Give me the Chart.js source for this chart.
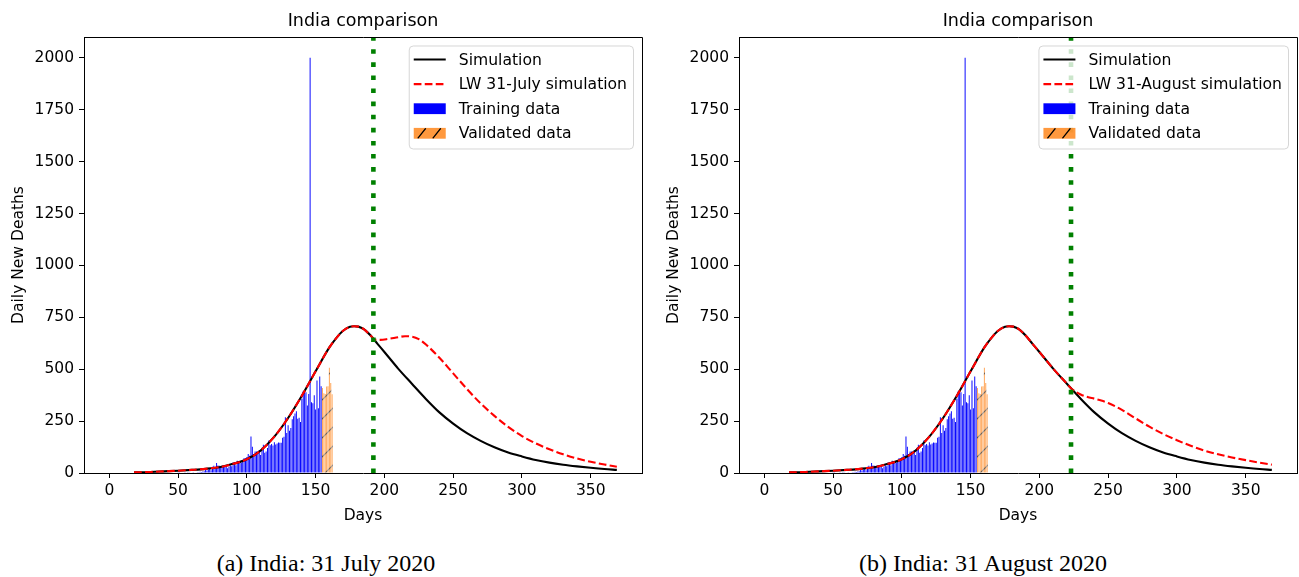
<!DOCTYPE html>
<html>
<head>
<meta charset="utf-8">
<script src="https://cdn.jsdelivr.net/npm/chart.js@4.4.0/dist/chart.umd.min.js"></script>
<style>
  html, body { margin: 0; padding: 0; background: #fff; width: 1299px; height: 577px; overflow: hidden; }
  body { position: relative; }
  canvas { position: absolute; top: 0; }
  .cap { position: absolute; top: 548px; width: 600px; text-align: center; line-height: 30px;
         font-family: "Liberation Serif", "Times New Roman", serif; font-size: 24px; color: #000; }
</style>
</head>
<body>
<canvas id="chartA" width="650" height="530" style="left:0px"></canvas>
<canvas id="chartB" width="650" height="530" style="left:655px"></canvas>
<div class="cap" style="left:26px">(a) India: 31 July 2020</div>
<div class="cap" style="left:683px">(b) India: 31 August 2020</div>
<script>
// daily deaths used for training (blue bars)
const trainingDays = [
  50, 51, 52, 53, 54, 55, 56, 57, 58, 59,
  60, 61, 62, 63, 64, 65, 66, 67, 68, 69,
  70, 71, 72, 73, 74, 75, 76, 77, 78, 79,
  80, 81, 82, 83, 84, 85, 86, 87, 88, 89,
  90, 91, 92, 93, 94, 95, 96, 97, 98, 99,
  100, 101, 102, 103, 104, 105, 106, 107, 108, 109,
  110, 111, 112, 113, 114, 115, 116, 117, 118, 119,
  120, 121, 122, 123, 124, 125, 126, 127, 128, 129,
  130, 131, 132, 133, 134, 135, 136, 137, 138, 139,
  140, 141, 142, 143, 144, 145, 146, 147, 148, 149,
  150, 151, 152, 153, 154
];
const trainingDeaths = [
  1, 1, 0, 0, 0, 1, 0, 1, 1, 0,
  2, 1, 2, 3, 4, 4, 6, 5, 7, 9,
  14, 12, 16, 20, 13, 30, 35, 20, 48, 36,
  35, 34, 35, 29, 38, 36, 23, 31, 36, 33,
  50, 50, 37, 59, 57, 56, 48, 62, 72, 71,
  77, 92, 83, 176, 126, 92, 103, 104, 97, 111,
  87, 122, 136, 98, 104, 120, 157, 134, 140, 132,
  148, 137, 142, 147, 146, 146, 170, 175, 269, 193,
  230, 204, 217, 259, 273, 286, 298, 261, 266, 246,
  357, 395, 386, 389, 325, 380, 2000, 341, 336, 375,
  306, 445, 312, 465, 418
];
// validated data (orange hatched bars)
const validatedDays = [155, 156, 157, 158, 159, 160, 161, 162];
const validatedDeaths = [410, 384, 380, 417, 418, 507, 434, 379];

// model curves
const simDays = [18, 30, 40, 50, 60, 70, 80, 90, 100, 110, 120, 130, 140, 150, 160, 165, 170, 175, 178,
  181, 185, 190, 195, 200, 210, 220, 230, 240, 250, 260, 270, 280, 290, 300, 310, 320, 330, 340, 350, 360, 369];
const simulation = [3, 5, 8, 11, 15, 20, 28, 44, 66, 108, 175, 265, 372, 490, 605, 650, 685, 704, 707,
  705, 693, 662, 622, 583, 503, 430, 358, 292, 238, 192, 155, 124, 99, 80, 63, 50, 40, 32, 25, 19, 15];

const julyDays = [18, 30, 40, 50, 60, 70, 80, 90, 100, 110, 120, 130, 140, 150, 160, 165, 170, 175, 178,
  181, 185, 190, 193, 197, 203, 210, 215, 220, 225, 230, 240, 250, 260, 270, 280, 290, 300, 310, 320,
  330, 340, 350, 360, 369];
const julySim = [3, 5, 8, 11, 15, 20, 28, 44, 66, 108, 175, 265, 372, 490, 605, 650, 685, 704, 707,
  705, 693, 662, 643, 641, 646, 654, 659, 657, 645, 620, 555, 480, 405, 335, 275, 222, 178, 143, 114,
  90, 70, 54, 41, 30];

const augDays = [18, 30, 40, 50, 60, 70, 80, 90, 100, 110, 120, 130, 140, 150, 160, 165, 170, 175, 178,
  181, 185, 190, 195, 200, 210, 220, 223, 230, 235, 240, 245, 250, 255, 260, 270, 280, 290, 300, 310,
  320, 330, 340, 350, 360, 369];
const augSim = [3, 5, 8, 11, 15, 20, 28, 44, 66, 108, 175, 265, 372, 490, 605, 650, 685, 704, 707,
  705, 693, 662, 622, 583, 503, 430, 408, 378, 366, 358, 349, 337, 322, 304, 263, 223, 188, 158, 131,
  108, 90, 75, 62, 50, 40];

const xTicks = [0, 50, 100, 150, 200, 250, 300, 350];
const yTicks = [0, 250, 500, 750, 1000, 1250, 1500, 1750, 2000];
const xRange = [-18.4, 387.3];
const yRange = [0, 2100];

Chart.defaults.font.family = '"DejaVu Sans", sans-serif';
Chart.defaults.color = '#000';

function pts(xs, ys) {
  return xs.map((x, i) => ({ x: x, y: ys[i] }));
}

function hatchPattern(bg, line) {
  const c = document.createElement('canvas');
  c.width = 19; c.height = 19;
  const g = c.getContext('2d');
  g.fillStyle = bg;
  g.fillRect(0, 0, 19, 19);
  g.strokeStyle = line;
  g.lineWidth = 1.2;
  g.beginPath();
  g.moveTo(-2, 21); g.lineTo(21, -2);
  g.moveTo(-2, 2); g.lineTo(2, -2);
  g.moveTo(17, 21); g.lineTo(21, 17);
  g.stroke();
  return g.createPattern(c, 'repeat');
}

// top/right spines + title centred on the axes
const frameTitle = {
  id: 'frameTitle',
  afterDraw(chart) {
    const { ctx, chartArea: a } = chart;
    ctx.save();
    ctx.strokeStyle = '#000';
    ctx.lineWidth = 1;
    ctx.beginPath();
    ctx.moveTo(a.left, Math.round(a.top) + 0.5);
    ctx.lineTo(Math.round(a.right) + 0.5, Math.round(a.top) + 0.5);
    ctx.lineTo(Math.round(a.right) + 0.5, a.bottom);
    ctx.stroke();
    ctx.font = '17.5px "DejaVu Sans"';
    ctx.fillStyle = '#000';
    ctx.textAlign = 'center';
    ctx.textBaseline = 'alphabetic';
    ctx.fillText('India comparison', (a.left + a.right) / 2, 25.5);
    ctx.restore();
  }
};

// matplotlib style legend box in the upper right corner
const mplLegend = {
  id: 'mplLegend',
  afterDatasetsDraw(chart, args, opts) {
    const { ctx, chartArea: a } = chart;
    const items = opts.items;
    ctx.save();
    ctx.font = '15.6px "DejaVu Sans"';
    let tw = 0;
    items.forEach(it => { tw = Math.max(tw, ctx.measureText(it.label).width); });
    const w = 50 + tw + 6, h = 103;
    const right = a.right - 9, top = a.top + 8.5, left = right - w;
    ctx.beginPath();
    ctx.roundRect(left + 0.5, top + 0.5, w, h, 4);
    ctx.fillStyle = 'rgba(255,255,255,0.8)';
    ctx.fill();
    ctx.strokeStyle = 'rgba(204,204,204,0.8)';
    ctx.lineWidth = 1;
    ctx.stroke();
    items.forEach((it, i) => {
      const cy = top + 14 + i * 24.6;
      const hx = left + 5, hw = 32;
      if (it.kind === 'line') {
        ctx.beginPath();
        ctx.setLineDash(it.dash || []);
        ctx.strokeStyle = it.color;
        ctx.lineWidth = 2.1;
        ctx.moveTo(hx, cy); ctx.lineTo(hx + hw, cy);
        ctx.stroke();
        ctx.setLineDash([]);
      } else {
        ctx.fillStyle = it.color;
        ctx.fillRect(hx, cy - 5.4, hw, 10.8);
        if (it.hatch) {
          ctx.save();
          ctx.beginPath();
          ctx.rect(hx, cy - 5.4, hw, 10.8);
          ctx.clip();
          ctx.strokeStyle = '#000';
          ctx.lineWidth = 1.3;
          ctx.beginPath();
          [4, 19].forEach(dx => {
            ctx.moveTo(hx + dx, cy + 5); ctx.lineTo(hx + dx + 8, cy - 5);
          });
          ctx.stroke();
          ctx.restore();
        }
      }
      ctx.fillStyle = '#000';
      ctx.textAlign = 'left';
      ctx.textBaseline = 'middle';
      ctx.fillText(it.label, left + 50, cy + 1);
    });
    ctx.restore();
  }
};

function makeChart(id, lwDays, lwValues, lwLabel, cutDay) {
  const ctx = document.getElementById(id).getContext('2d');
  const orangeFill = hatchPattern('rgba(255,127,14,0.7)', 'rgba(60,60,60,0.9)');
  const tickFont = { family: '"DejaVu Sans"', size: 15.5 };
  return new Chart(ctx, {
    type: 'bar',
    data: {
      datasets: [
        { type: 'bar', label: 'Training data', data: pts(trainingDays, trainingDeaths),
          backgroundColor: '#0000ff', borderWidth: 0, grouped: false, inflateAmount: 0,
          barPercentage: 0.7, categoryPercentage: 1, order: 5 },
        { type: 'bar', label: 'Validated data', data: pts(validatedDays, validatedDeaths),
          backgroundColor: orangeFill, borderWidth: 0, grouped: false, inflateAmount: 0,
          barPercentage: 0.7, categoryPercentage: 1, order: 4 },
        { type: 'line', label: 'Simulation', data: pts(simDays, simulation),
          borderColor: '#000000', borderWidth: 2.1, pointRadius: 0, cubicInterpolationMode: 'monotone',
          fill: false, order: 3 },
        { type: 'line', label: lwLabel, data: pts(lwDays, lwValues),
          borderColor: '#ff0000', borderWidth: 2.1, borderDash: [7.7, 3.3], pointRadius: 0,
          cubicInterpolationMode: 'monotone', fill: false, order: 2 },
        { type: 'line', label: 'cut', data: pts([cutDay, cutDay], yRange),
          borderColor: '#008000', borderWidth: 4.6, borderDash: [4.6, 8.5], borderCapStyle: 'butt',
          pointRadius: 0, fill: false, order: 1 }
      ]
    },
    options: {
      responsive: false,
      animation: false,
      layout: { padding: { top: 37, right: 8, left: 0, bottom: 0 } },
      plugins: {
        legend: { display: false },
        tooltip: { enabled: false },
        mplLegend: {
          items: [
            { kind: 'line', label: 'Simulation', color: '#000000' },
            { kind: 'line', label: lwLabel, color: '#ff0000', dash: [7.7, 3.3] },
            { kind: 'patch', label: 'Training data', color: '#0000ff' },
            { kind: 'patch', label: 'Validated data', color: 'rgba(255,127,14,0.8)', hatch: true }
          ]
        }
      },
      scales: {
        x: {
          type: 'linear', min: xRange[0], max: xRange[1], offset: false,
          afterBuildTicks: s => { s.ticks = xTicks.map(v => ({ value: v })); },
          afterFit: s => { s.height = 57; },
          grid: { drawOnChartArea: false, drawTicks: true, tickLength: 5, tickColor: '#000', offset: false },
          border: { display: true, color: '#000', width: 1 },
          ticks: { font: tickFont, color: '#000', padding: 4, maxRotation: 0, autoSkip: false,
                   callback: v => String(v) },
          title: { display: true, text: 'Days', color: '#000', font: tickFont, padding: { top: 0, bottom: 5 } }
        },
        y: {
          type: 'linear', min: yRange[0], max: yRange[1],
          afterBuildTicks: s => { s.ticks = yTicks.map(v => ({ value: v })); },
          afterFit: s => { s.width = 84; },
          grid: { drawOnChartArea: false, drawTicks: true, tickLength: 5, tickColor: '#000' },
          border: { display: true, color: '#000', width: 1 },
          ticks: { font: tickFont, color: '#000', padding: 5, callback: v => String(v) },
          title: { display: true, text: 'Daily New Deaths', color: '#000', font: tickFont,
                   padding: { top: 10, bottom: 0 } }
        }
      }
    },
    plugins: [mplLegend, frameTitle]
  });
}

makeChart('chartA', julyDays, julySim, 'LW 31-July simulation', 192);
makeChart('chartB', augDays, augSim, 'LW 31-August simulation', 223);
</script>
</body>
</html>
